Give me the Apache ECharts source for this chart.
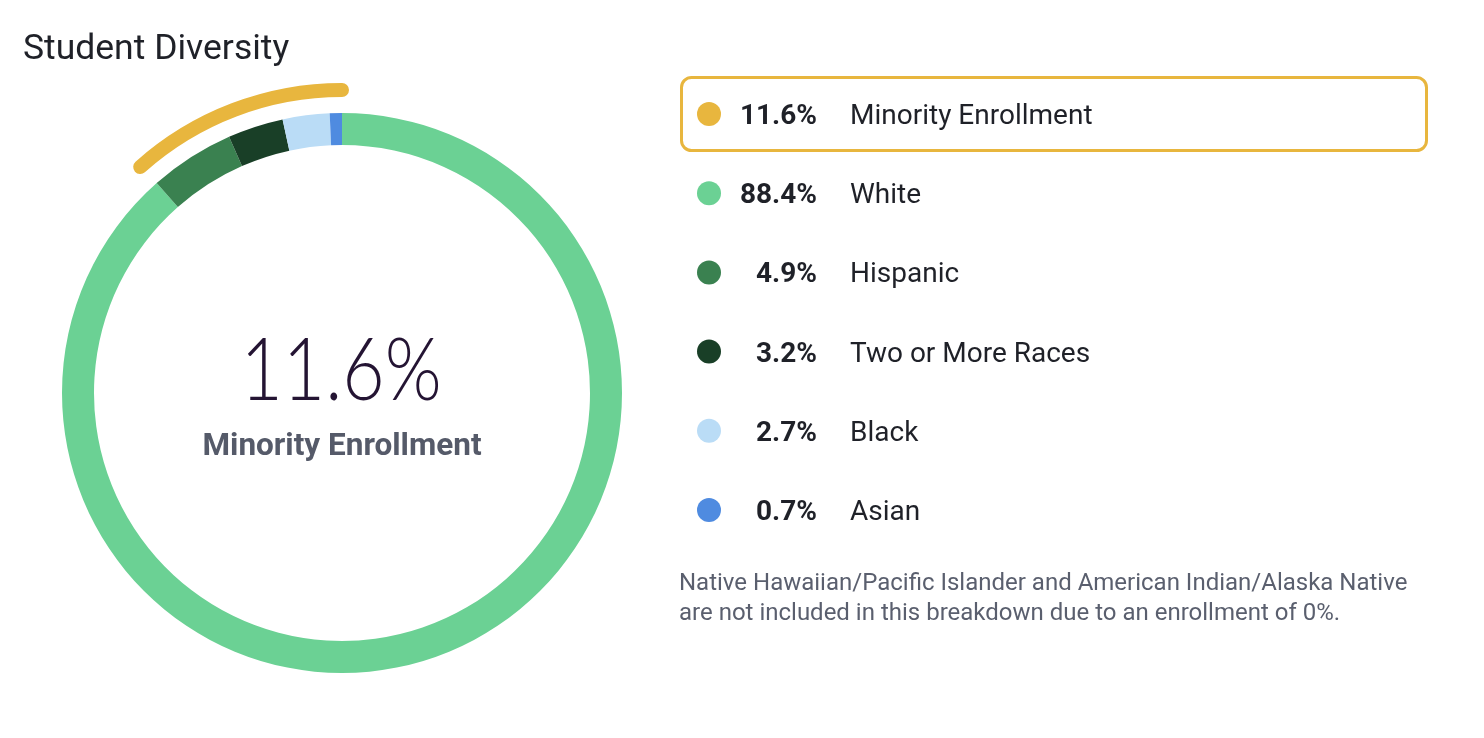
<!DOCTYPE html>
<html>
<head>
<meta charset="utf-8">
<script src="https://cdn.jsdelivr.net/npm/echarts@6/dist/echarts.min.js"></script>
<style>
html,body{margin:0;padding:0;background:#fff;}
#chart{width:1484px;height:738px;}
</style>
</head>
<body>
<div id="chart"></div>
<script>
// ---- data ----
const titleText = 'Student Diversity';
const minorityLabel = 'Minority Enrollment';
const minorityValue = 11.6;
const categories = ['White', 'Hispanic', 'Two or More Races', 'Black', 'Asian'];
const values = [88.4, 4.9, 3.2, 2.7, 0.7];
const colors = ['#6bd194', '#3a8150', '#193f27', '#badcf6', '#4f8be0'];
const minorityColor = '#e8b63e';
const footnoteLines = [
  'Native Hawaiian/Pacific Islander and American Indian/Alaska Native',
  'are not included in this breakdown due to an enrollment of 0%.'
];

const chart = echarts.init(document.getElementById('chart'), null, {renderer: 'canvas'});

// legend rows (minority first, then categories)
const legendNames = [minorityLabel].concat(categories);
const legendVals = [minorityValue].concat(values);
const legendColors = [minorityColor].concat(colors);
const rowY0 = 114, rowStep = 79.2;
const legendGraphics = [];
legendNames.forEach((name, i) => {
  const y = rowY0 + i * rowStep;
  legendGraphics.push({
    type: 'circle', shape: {cx: 709, cy: y, r: 12}, style: {fill: legendColors[i]}
  });
  legendGraphics.push({
    type: 'text', x: 817, y: y + 3,
    style: {text: legendVals[i].toFixed(1) + '%', fontFamily: 'Roboto', fontWeight: 'bold', fontSize: 28,
      fill: '#1f2128', align: 'right', verticalAlign: 'middle'}
  });
  legendGraphics.push({
    type: 'text', x: 850, y: y + 3,
    style: {text: name, fontFamily: 'Roboto', fontSize: 28,
      fill: '#1f2128', align: 'left', verticalAlign: 'middle'}
  });
});

const option = {
  backgroundColor: '#ffffff',
  animation: false,
  title: {
    text: titleText,
    left: 18,
    top: 27,
    textStyle: {fontFamily: 'Roboto', fontSize: 35.5, fontWeight: 'normal', color: '#1f2128'}
  },
  polar: {center: [342, 393], radius: [296, 310]},
  angleAxis: {type: 'value', min: 0, max: 100, startAngle: 90, clockwise: false, show: false},
  radiusAxis: {type: 'category', data: ['m'], show: false},
  graphic: [
    {
      type: 'rect',
      shape: {x: 681.5, y: 77.5, width: 745, height: 73, r: 10},
      style: {fill: 'rgba(0,0,0,0)', stroke: minorityColor, lineWidth: 3},
      z: -1
    },
    {
      type: 'text', x: 341, y: 372, scaleX: 0.85,
      style: {text: minorityValue.toFixed(1) + '%', fontFamily: 'Lato', fontWeight: 300, fontSize: 86,
        fill: '#241433', align: 'center', verticalAlign: 'middle'}
    },
    {
      type: 'text', x: 342, y: 447,
      style: {text: minorityLabel, fontFamily: 'Roboto', fontWeight: 'bold', fontSize: 31.5,
        fill: '#555a69', align: 'center', verticalAlign: 'middle'}
    },
    {
      type: 'text', x: 679, y: 584,
      style: {text: footnoteLines[0], fontFamily: 'Roboto', fontSize: 24, fill: '#5a5f6e', verticalAlign: 'middle'}
    },
    {
      type: 'text', x: 679, y: 614,
      style: {text: footnoteLines[1], fontFamily: 'Roboto', fontSize: 24, fill: '#5a5f6e', verticalAlign: 'middle'}
    }
  ].concat(legendGraphics),
  series: [
    {
      type: 'pie',
      center: [342, 393],
      radius: [248, 280],
      startAngle: 90,
      clockwise: true,
      silent: true,
      label: {show: false},
      labelLine: {show: false},
      data: categories.map((c, i) => ({name: c, value: values[i], itemStyle: {color: colors[i]}}))
    },
    {
      type: 'bar',
      name: minorityLabel,
      coordinateSystem: 'polar',
      data: [minorityValue],
      roundCap: true,
      barWidth: 14,
      silent: true,
      itemStyle: {color: minorityColor}
    }
  ]
};
chart.setOption(option);
</script>
</body>
</html>
